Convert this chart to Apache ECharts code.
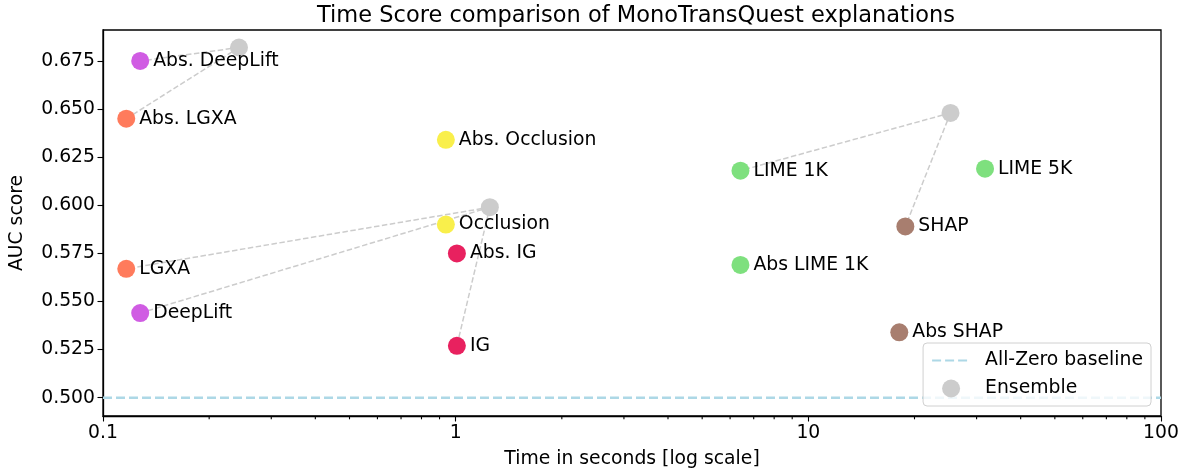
<!DOCTYPE html>
<html>
<head>
<meta charset="utf-8">
<script src="https://cdn.jsdelivr.net/npm/echarts@6/dist/echarts.min.js"></script>
<style>
  html, body { margin: 0; padding: 0; background: #fff; }
  #chart { width: 1187px; height: 476px; }
</style>
</head>
<body>
<div id="chart"></div>
<script>
// explanation methods
var methods = ['Abs. DeepLift', 'Abs. LGXA', 'Abs. Occlusion', 'Occlusion', 'Abs. IG', 'IG',
  'LGXA', 'DeepLift', 'LIME 1K', 'LIME 5K', 'SHAP', 'Abs LIME 1K', 'Abs SHAP'];
var times = [0.1275, 0.1164, 0.938, 0.938, 1.008, 1.008, 0.1164, 0.1275, 6.42, 31.7, 18.84, 6.42, 18.11];
var scores = [0.675, 0.645, 0.634, 0.590, 0.575, 0.527, 0.567, 0.544, 0.618, 0.619, 0.589, 0.569, 0.534];
var families = ['DeepLift', 'LGXA', 'Occlusion', 'Occlusion', 'IG', 'IG', 'LGXA', 'DeepLift',
  'LIME', 'LIME', 'SHAP', 'LIME', 'SHAP'];

// ensembles and which methods they combine
var ensembleTimes = [0.243, 1.25, 25.3];
var ensembleScores = [0.682, 0.599, 0.648];
var ensembleMembers = [['Abs. DeepLift', 'Abs. LGXA'], ['LGXA', 'DeepLift', 'IG'], ['LIME 1K', 'SHAP']];

var baselineScore = 0.5;
var yTicks = [0.500, 0.525, 0.550, 0.575, 0.600, 0.625, 0.650, 0.675];
var xMinorTicks = [0.2, 0.3, 0.4, 0.5, 0.6, 0.7, 0.8, 0.9, 2, 3, 4, 5, 6, 7, 8, 9, 20, 30, 40, 50, 60, 70, 80, 90];

var familyColors = {
  DeepLift: '#d05ce3',
  LGXA: '#ff7b5c',
  Occlusion: '#f9ef4b',
  IG: '#e8215f',
  LIME: '#7ee07e',
  SHAP: '#a87e6f'
};

var FONT = 'DejaVu Sans';
var FS = 18.8;
var series = [];

// dashed links ensemble -> member
ensembleMembers.forEach(function (members, e) {
  members.forEach(function (m) {
    var i = methods.indexOf(m);
    series.push({
      type: 'line',
      data: [[ensembleTimes[e], ensembleScores[e]], [times[i], scores[i]]],
      symbol: 'none',
      silent: true,
      z: 1,
      lineStyle: { color: '#cccccc', width: 1.5, type: [5.5, 2.5] }
    });
  });
});

series.push({
  name: 'All-Zero baseline',
  type: 'line',
  data: [[0.1, baselineScore], [100, baselineScore]],
  symbol: 'none',
  z: 1,
  itemStyle: { color: '#add8e6' },
  lineStyle: { color: '#add8e6', width: 2.5, type: [9, 4] }
});

series.push({
  name: 'Ensemble',
  type: 'scatter',
  data: ensembleTimes.map(function (t, i) { return [t, ensembleScores[i]]; }),
  symbolSize: 18,
  z: 3,
  itemStyle: { color: '#cccccc', opacity: 1 }
});

series.push({
  type: 'scatter',
  data: methods.map(function (m, i) {
    return { name: m, value: [times[i], scores[i]], itemStyle: { color: familyColors[families[i]] } };
  }),
  symbolSize: 18,
  z: 4,
  itemStyle: { opacity: 1 },
  label: {
    show: true,
    position: 'right',
    distance: 4,
    formatter: '{b}',
    color: '#000',
    fontFamily: FONT,
    fontSize: FS
  }
});

// matplotlib style minor ticks on the log axis
series.push({
  type: 'custom',
  silent: true,
  clip: false,
  z: 5,
  data: xMinorTicks.map(function (v) { return [v, baselineScore]; }),
  renderItem: function (params, api) {
    var x = api.coord([api.value(0), baselineScore])[0];
    var bottom = params.coordSys.y + params.coordSys.height;
    return {
      type: 'line',
      shape: { x1: x, y1: bottom, x2: x, y2: bottom + 3.3 },
      style: { stroke: '#000', lineWidth: 1.1 }
    };
  }
});

var chart = echarts.init(document.getElementById('chart'));
chart.setOption({
  animation: false,
  backgroundColor: '#fff',
  title: {
    text: 'Time Score comparison of MonoTransQuest explanations',
    left: 631,
    textAlign: 'center',
    top: 0,
    textStyle: { fontFamily: FONT, fontSize: 22.5, fontWeight: 'normal', color: '#000' }
  },
  grid: { left: 102, right: 26, top: 30, bottom: 60, show: true, borderColor: '#000', borderWidth: 1.3 },
  legend: {
    orient: 'vertical',
    right: 36,
    top: 343,
    data: [
      { name: 'All-Zero baseline', itemStyle: { opacity: 0 } },
      'Ensemble'
    ],
    itemWidth: 38,
    itemHeight: 18,
    itemGap: 9,
    padding: [8, 8, 8, 8],
    backgroundColor: 'rgba(255,255,255,0.8)',
    borderColor: '#d0d0d0',
    borderWidth: 1,
    borderRadius: 4,
    textStyle: { fontFamily: FONT, fontSize: FS, color: '#000', padding: [0, 0, 0, 10] }
  },
  xAxis: {
    type: 'log',
    logBase: 10,
    min: 0.1,
    max: 100,
    name: 'Time in seconds [log scale]',
    nameLocation: 'middle',
    nameGap: 34,
    nameTextStyle: { fontFamily: FONT, fontSize: FS, color: '#000' },
    axisLine: { lineStyle: { color: '#000', width: 1.3 } },
    axisTick: { length: 5.5, lineStyle: { color: '#000', width: 1.1 } },
    axisLabel: { fontFamily: FONT, fontSize: FS, color: '#000', margin: 8 },
    splitLine: { show: false }
  },
  yAxis: {
    type: 'value',
    min: 0.4905,
    max: 0.6911,
    name: 'AUC score',
    nameLocation: 'middle',
    nameGap: 76,
    nameTextStyle: { fontFamily: FONT, fontSize: FS, color: '#000' },
    axisLine: { show: true, lineStyle: { color: '#000', width: 1.3 } },
    axisTick: { show: true, length: 5.5, customValues: yTicks, lineStyle: { color: '#000', width: 1.1 } },
    axisLabel: {
      fontFamily: FONT, fontSize: FS, color: '#000', margin: 8,
      customValues: yTicks,
      formatter: function (v) { return v.toFixed(3); }
    },
    splitLine: { show: false }
  },
  series: series
});
</script>
</body>
</html>
